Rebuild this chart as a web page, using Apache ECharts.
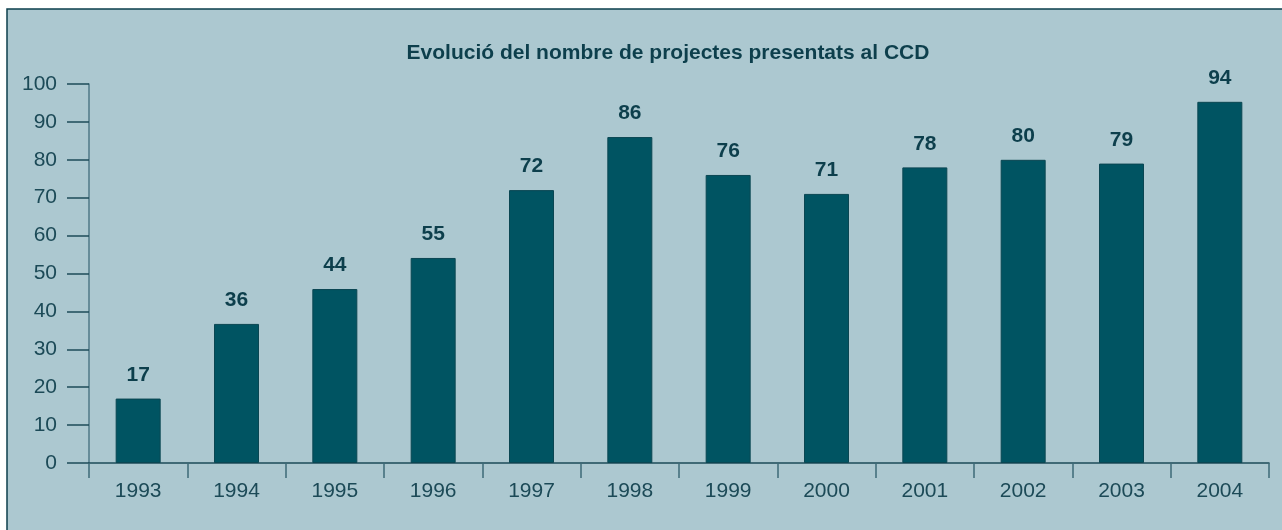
<!DOCTYPE html>
<html lang="ca">
<head>
    <meta charset="UTF-8">
    <script src="https://cdn.jsdelivr.net/npm/echarts@6/dist/echarts.min.js"></script>
    <title>Evolució del nombre de projectes</title>
</head>
<body>
<style>
    html, body, #main {
        width: 100%;
        height: 100%;
        margin: 0;
        background: #ffffff;
    }
</style>
<div id='main'></div>
<script>
    // dades llegides del gràfic
    var years = ['1993', '1994', '1995', '1996', '1997', '1998', '1999', '2000', '2001', '2002', '2003', '2004'];
    // alçada de les barres tal com es dibuixen
    var barValues = [17, 36.7, 45.9, 54.1, 72, 86, 76, 71, 78, 80, 79, 95.3];
    // xifres escrites sobre les barres
    var barLabels = [17, 36, 44, 55, 72, 86, 76, 71, 78, 80, 79, 94];
    var yTicks = [0, 10, 20, 30, 40, 50, 60, 70, 80, 90, 100];

    var dark = '#0d3f4c';
    var textColor = '#1c4a57';
    var fontFam = '"Liberation Sans", Arial, sans-serif';

    var myChart = echarts.init(document.getElementById('main'));

    var option = {
        backgroundColor: '#ffffff',
        animation: false,
        graphic: [
            {
                type: 'rect',
                z: -10,
                shape: {x: 7, y: 9, width: 1400, height: 700},
                style: {fill: '#acc8d0', stroke: dark, lineWidth: 1.5}
            }
        ],
        title: {
            text: 'Evolució del nombre de projectes presentats al CCD',
            left: 663,
            top: 38,
            textAlign: 'center',
            textStyle: {
                color: dark,
                fontFamily: fontFam,
                fontWeight: 'bold',
                fontSize: 21
            }
        },
        grid: {
            left: 89,
            right: 13,
            top: 84,
            bottom: 67
        },
        xAxis: {
            type: 'category',
            data: years,
            boundaryGap: true,
            axisLine: {lineStyle: {color: '#1c4b58', width: 1.5}},
            axisTick: {show: true, length: 15, lineStyle: {color: '#3d6a77', width: 1.5}},
            axisLabel: {
                color: textColor,
                fontFamily: fontFam,
                fontSize: 21,
                margin: 18
            }
        },
        yAxis: {
            type: 'value',
            min: yTicks[0],
            max: yTicks[yTicks.length - 1],
            interval: 10,
            splitLine: {show: false},
            axisLine: {show: true, lineStyle: {color: '#4f7987', width: 1.5}},
            axisTick: {show: true, length: 22, lineStyle: {color: '#1c4b58', width: 1.5}},
            axisLabel: {
                color: textColor,
                fontFamily: fontFam,
                fontSize: 21,
                margin: 32
            }
        },
        series: [
            {
                type: 'bar',
                data: barValues,
                barWidth: 45,
                itemStyle: {
                    color: '#005462',
                    borderColor: '#0a4652',
                    borderWidth: 1
                },
                label: {
                    show: true,
                    position: 'top',
                    distance: 13,
                    color: dark,
                    fontFamily: fontFam,
                    fontWeight: 'bold',
                    fontSize: 21,
                    formatter: function (p) {
                        return barLabels[p.dataIndex];
                    }
                }
            }
        ]
    };

    myChart.setOption(option, true);
    window.onresize = myChart.resize;
</script>
</body>
</html>
